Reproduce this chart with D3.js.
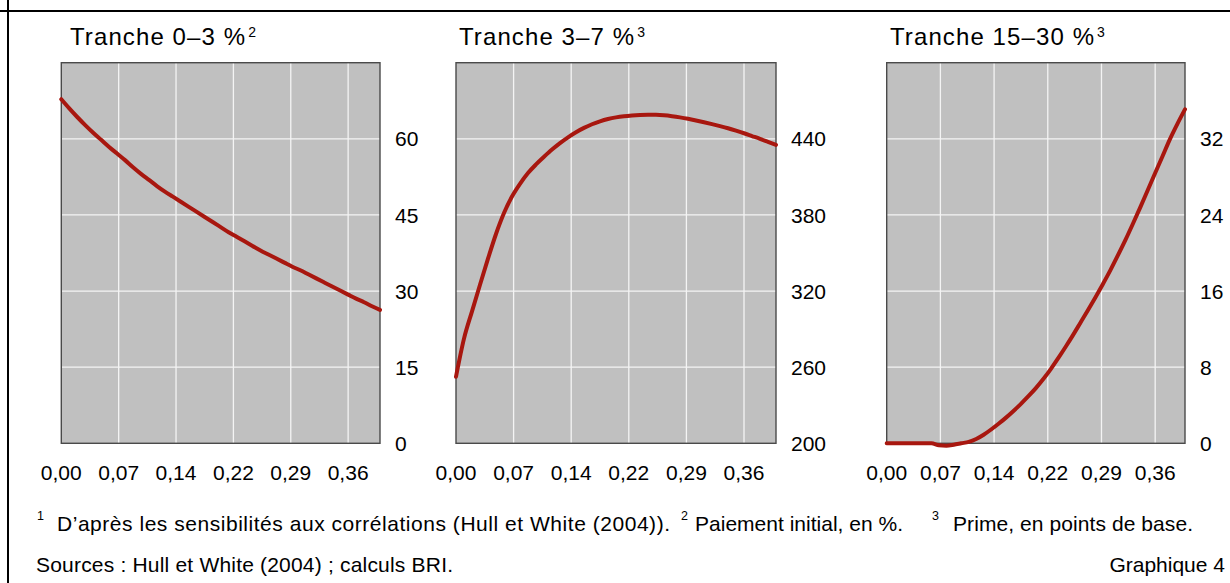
<!DOCTYPE html>
<html lang="fr">
<head>
<meta charset="UTF-8">
<title>Graphique 4</title>
<script src="https://d3js.org/d3.v7.min.js"></script>
<style>
  body { margin: 0; background: #fff; }
  svg { display: block; font-family: "Liberation Sans", Arial, sans-serif; }
  .tick-label { font-size: 21px; fill: #000; }
  .title { font-size: 24px; letter-spacing: 1.1px; fill: #000; }
  .note { font-size: 21px; fill: #000; }
  .sup { font-size: 12.5px; fill: #000; }
</style>
</head>
<body>
<div id="chart"></div>
<script>
// Corrélation (axe x commun)
const rho = [0.00, 0.01, 0.02, 0.03, 0.04, 0.05, 0.06, 0.07, 0.08, 0.09,
             0.10, 0.11, 0.12, 0.13, 0.14, 0.15, 0.16, 0.17, 0.18, 0.19,
             0.20, 0.21, 0.22, 0.23, 0.24, 0.25, 0.26, 0.27, 0.28, 0.29,
             0.30, 0.31, 0.32, 0.33, 0.34, 0.35, 0.36, 0.37, 0.38, 0.39, 0.40];

// Tranche 0-3 % : paiement initial, en %
const tranche03 = [67.8, 66.0, 64.3, 62.7, 61.2, 59.8, 58.4, 57.1, 55.8, 54.4,
                   53.1, 51.9, 50.7, 49.6, 48.6, 47.6, 46.6, 45.6, 44.6, 43.6,
                   42.6, 41.6, 40.7, 39.8, 38.9, 38.0, 37.2, 36.4, 35.6, 34.8,
                   34.1, 33.3, 32.5, 31.7, 30.9, 30.1, 29.3, 28.5, 27.8, 27.0, 26.3];

// Tranche 3-7 % : prime, en points de base
const tranche37 = [252.5, 282.5, 304.0, 325.0, 345.5, 365.0, 381.5, 394.5, 404.5, 413.0,
                   419.8, 425.8, 431.5, 436.6, 441.2, 445.2, 448.6, 451.5, 453.8, 455.6,
                   456.9, 457.8, 458.4, 458.8, 459.0, 458.9, 458.5, 457.8, 456.9, 455.8,
                   454.5, 453.1, 451.6, 450.0, 448.3, 446.4, 444.4, 442.2, 440.0, 437.6, 435.2];

// Tranche 15-30 % : prime, en points de base
const tranche1530 = [0, 0, 0, 0, 0, 0, 0, -0.2, -0.25, -0.15,
                     0.0, 0.15, 0.45, 0.9, 1.45, 2.05, 2.7, 3.4, 4.15, 4.95,
                     5.8, 6.75, 7.8, 8.95, 10.15, 11.4, 12.7, 14.0, 15.35, 16.75,
                     18.2, 19.75, 21.35, 23.05, 24.8, 26.6, 28.4, 30.2, 32.0, 33.6, 35.1];

const xTickValues = [0, 0.072, 0.144, 0.216, 0.288, 0.36];
const xTickLabels = ["0,00", "0,07", "0,14", "0,22", "0,29", "0,36"];

const yTicks03 = [0, 15, 30, 45, 60];
const yTicks37 = [200, 260, 320, 380, 440];
const yTicks1530 = [0, 8, 16, 24, 32];

const width = 1230, height = 583;
const plotTop = 62.7, plotBottom = 443.3;

const panels = [
  { title: "Tranche 0\u20133 %", sup: "2", values: tranche03, yTicks: yTicks03, yDomain: [0, 75],
    left: 61.3, right: 380, titleX: 70 },
  { title: "Tranche 3\u20137 %", sup: "3", values: tranche37, yTicks: yTicks37, yDomain: [200, 500],
    left: 456, right: 776, titleX: 459 },
  { title: "Tranche 15\u201330 %", sup: "3", values: tranche1530, yTicks: yTicks1530, yDomain: [0, 40],
    left: 886.7, right: 1185, titleX: 890 }
];

const svg = d3.select("#chart").append("svg")
  .attr("width", width)
  .attr("height", height);

// cadre (haut et gauche)
svg.append("line").attr("x1", 0).attr("x2", width).attr("y1", 11).attr("y2", 11)
  .attr("stroke", "#000").attr("stroke-width", 2);
svg.append("line").attr("x1", 8).attr("x2", 8).attr("y1", 0).attr("y2", height)
  .attr("stroke", "#000").attr("stroke-width", 2);

panels.forEach(p => {
  const x = d3.scaleLinear().domain([0, 0.4]).range([p.left, p.right]);
  const y = d3.scaleLinear().domain(p.yDomain).range([plotBottom, plotTop]);
  const g = svg.append("g");

  // fond
  g.append("rect")
    .attr("x", p.left).attr("y", plotTop)
    .attr("width", p.right - p.left).attr("height", plotBottom - plotTop)
    .attr("fill", "#c0c0c0");

  // grille
  g.selectAll(".vgrid").data(xTickValues.filter(v => v > 0)).enter()
    .append("line")
    .attr("x1", d => x(d)).attr("x2", d => x(d))
    .attr("y1", plotTop).attr("y2", plotBottom)
    .attr("stroke", "#f4f4f4").attr("stroke-width", 1.3);
  g.selectAll(".hgrid").data(p.yTicks.filter(v => v > p.yDomain[0])).enter()
    .append("line")
    .attr("x1", p.left).attr("x2", p.right)
    .attr("y1", d => y(d)).attr("y2", d => y(d))
    .attr("stroke", "#f4f4f4").attr("stroke-width", 1.3);

  // bordure
  g.append("rect")
    .attr("x", p.left).attr("y", plotTop)
    .attr("width", p.right - p.left).attr("height", plotBottom - plotTop)
    .attr("fill", "none").attr("stroke", "#4a4a4a").attr("stroke-width", 1.4);

  // courbe
  const line = d3.line()
    .x((d, i) => x(rho[i]))
    .y(d => y(d))
    .curve(d3.curveMonotoneX);
  g.append("path")
    .datum(p.values)
    .attr("d", line)
    .attr("fill", "none")
    .attr("stroke", "#a8170f")
    .attr("stroke-width", 4)
    .attr("stroke-linejoin", "round")
    .attr("stroke-linecap", "round");

  // étiquettes x
  g.selectAll(".xlab").data(xTickValues).enter()
    .append("text")
    .attr("class", "tick-label")
    .attr("x", d => x(d))
    .attr("y", 480)
    .attr("text-anchor", "middle")
    .text((d, i) => xTickLabels[i]);

  // étiquettes y (à droite)
  g.selectAll(".ylab").data(p.yTicks).enter()
    .append("text")
    .attr("class", "tick-label")
    .attr("x", p.right + 15)
    .attr("y", d => y(d))
    .attr("dy", "0.36em")
    .text(d => d);

  // titre
  const t = g.append("text").attr("class", "title").attr("x", p.titleX).attr("y", 45);
  t.append("tspan").text(p.title);
  t.append("tspan").attr("font-size", 14).attr("dx", 2).attr("dy", -8).text(p.sup);
});

// notes
const notes = [
  { sup: "1", supX: 37, text: "D\u2019apr\u00e8s les sensibilit\u00e9s aux corr\u00e9lations (Hull et White (2004)).", x: 57, len: 613 },
  { sup: "2", supX: 681, text: "Paiement initial, en %.", x: 695, len: 208 },
  { sup: "3", supX: 932, text: "Prime, en points de base.", x: 953, len: 240 }
];
notes.forEach(n => {
  svg.append("text").attr("class", "sup").attr("x", n.supX).attr("y", 520).text(n.sup);
  svg.append("text").attr("class", "note").attr("x", n.x).attr("y", 531)
    .attr("textLength", n.len).attr("lengthAdjust", "spacing")
    .text(n.text);
});

svg.append("text").attr("class", "note").attr("x", 36).attr("y", 572)
  .attr("textLength", 417).attr("lengthAdjust", "spacing")
  .text("Sources : Hull et White (2004) ; calculs BRI.");
svg.append("text").attr("class", "note").attr("x", 1225).attr("y", 572)
  .attr("text-anchor", "end")
  .text("Graphique 4");
</script>
</body>
</html>
